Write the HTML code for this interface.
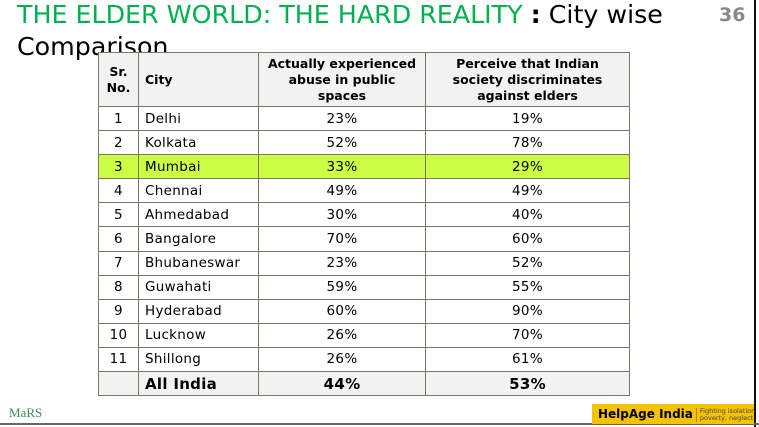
<!DOCTYPE html>
<html><head><meta charset="utf-8"><style>
body{margin:0;width:759px;height:427px;background:#fff;position:relative;overflow:hidden;font-family:"DejaVu Sans","Liberation Sans",sans-serif}
.t{position:absolute;left:17px;top:-1px;font-size:25.3px;line-height:32px;color:#000;white-space:nowrap}
.g{color:#00b050}
.n{position:absolute;left:719px;top:4px;font-size:19px;font-weight:bold;color:#888}
.vr{position:absolute;left:754px;top:0;width:2px;height:427px;background:#111}
.hr{position:absolute;left:0;top:423px;width:759px;height:2px;background:#666}
table{position:absolute;left:98px;top:52px;border-collapse:collapse;font-size:13.5px;background:#fff;z-index:2}
td{border:1px solid #7f7566;height:23.1px;padding:0;text-align:center;letter-spacing:0.3px}
td.c{text-align:left;padding-left:6px}
tr.h td{background:#f2f2f2;font-weight:bold;font-size:12.5px;height:53px;line-height:16px;letter-spacing:0}
tr.y td{background:#ccff44}
tr.f td{background:#f2f2f2;font-weight:bold;font-size:15px}
.mars{position:absolute;left:9px;top:405px;font-family:"Liberation Serif",serif;font-size:13px;color:#3a8a5a}
.hp{position:absolute;left:592px;top:404px;width:162px;height:20px;background:#f5c200;font-size:12px;font-weight:bold;line-height:20px;padding-left:6px;box-sizing:border-box;white-space:nowrap;overflow:hidden}
.hp span{font-weight:normal;font-size:6.5px;display:inline-block;line-height:7px;vertical-align:middle;margin-left:3px;border-left:1px solid #a80;padding-left:3px;color:#444}
</style></head><body>
<div class="t"><span class="g">THE ELDER WORLD: THE HARD REALITY</span> <b>:</b> City wise<br>Comparison</div>
<div class="n">36</div>
<div class="vr"></div><div class="hr"></div>
<table>
<colgroup><col style="width:40px"><col style="width:120px"><col style="width:167px"><col style="width:204px"></colgroup>
<tr class="h"><td>Sr.<br>No.</td><td class="c">City</td><td>Actually experienced<br>abuse in public<br>spaces</td><td>Perceive that Indian<br>society discriminates<br>against elders</td></tr>
<tr><td>1</td><td class="c">Delhi</td><td>23%</td><td>19%</td></tr>
<tr><td>2</td><td class="c">Kolkata</td><td>52%</td><td>78%</td></tr>
<tr class="y"><td>3</td><td class="c">Mumbai</td><td>33%</td><td>29%</td></tr>
<tr><td>4</td><td class="c">Chennai</td><td>49%</td><td>49%</td></tr>
<tr><td>5</td><td class="c">Ahmedabad</td><td>30%</td><td>40%</td></tr>
<tr><td>6</td><td class="c">Bangalore</td><td>70%</td><td>60%</td></tr>
<tr><td>7</td><td class="c">Bhubaneswar</td><td>23%</td><td>52%</td></tr>
<tr><td>8</td><td class="c">Guwahati</td><td>59%</td><td>55%</td></tr>
<tr><td>9</td><td class="c">Hyderabad</td><td>60%</td><td>90%</td></tr>
<tr><td>10</td><td class="c">Lucknow</td><td>26%</td><td>70%</td></tr>
<tr><td>11</td><td class="c">Shillong</td><td>26%</td><td>61%</td></tr>
<tr class="f"><td></td><td class="c">All India</td><td>44%</td><td>53%</td></tr>
</table>
<div class="mars">MaRS</div>
<div class="hp">HelpAge India<span>Fighting isolation,<br>poverty, neglect</span></div>
</body></html>
